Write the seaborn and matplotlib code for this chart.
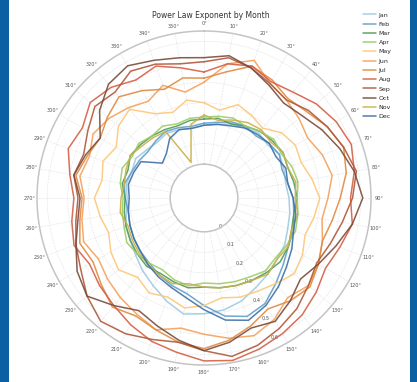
import numpy as np
import pandas as pd
import matplotlib
matplotlib.use("Agg")
import matplotlib.pyplot as plt
from matplotlib.patches import Rectangle
import seaborn as sns

# direction bins, degrees clockwise from north
directions = list(range(0, 360, 10))
months = ["Jan", "Feb", "Mar", "Apr", "May", "Jun",
          "Jul", "Aug", "Sep", "Oct", "Nov", "Dec"]
month_colors = ["#9ecae1", "#5f9fc9", "#4f9a5a", "#9ccc65", "#fdc87a", "#f5a05a",
                "#e08a40", "#d45f45", "#b0583a", "#7b4b3a", "#c9b04a", "#3f6fa8"]

jan = [0.19, 0.20, 0.22, 0.23, 0.25, 0.24, 0.26, 0.25, 0.24, 0.25, 0.26, 0.27,
       0.29, 0.30, 0.32, 0.34, 0.37, 0.39, 0.40, 0.41, 0.37, 0.33, 0.30, 0.27,
       0.25, 0.24, 0.22, 0.21, 0.22, 0.21, 0.22, 0.20, 0.19, 0.20, 0.19, 0.18]
feb = [0.20, 0.21, 0.23, 0.24, 0.23, 0.25, 0.26, 0.24, 0.25, 0.27, 0.28, 0.30,
       0.31, 0.34, 0.38, 0.43, 0.45, 0.42, 0.36, 0.31, 0.29, 0.27, 0.25, 0.24,
       0.23, 0.22, 0.21, 0.22, 0.23, 0.21, 0.20, 0.19, 0.20, 0.21, 0.20, 0.19]
mar = [0.22, 0.23, 0.22, 0.24, 0.26, 0.27, 0.28, 0.27, 0.28, 0.29, 0.28, 0.29,
       0.31, 0.32, 0.31, 0.30, 0.29, 0.28, 0.27, 0.28, 0.27, 0.26, 0.27, 0.26,
       0.25, 0.24, 0.23, 0.22, 0.24, 0.23, 0.25, 0.24, 0.23, 0.22, 0.21, 0.22]
apr = [0.23, 0.24, 0.25, 0.24, 0.26, 0.28, 0.27, 0.29, 0.30, 0.29, 0.30, 0.31,
       0.30, 0.29, 0.30, 0.28, 0.27, 0.26, 0.25, 0.27, 0.26, 0.24, 0.25, 0.26,
       0.27, 0.25, 0.24, 0.23, 0.25, 0.26, 0.24, 0.25, 0.23, 0.24, 0.22, 0.23]
may = [0.30, 0.27, 0.32, 0.30, 0.28, 0.33, 0.35, 0.34, 0.37, 0.40, 0.38, 0.36,
       0.39, 0.41, 0.38, 0.36, 0.35, 0.33, 0.36, 0.38, 0.35, 0.37, 0.34, 0.38,
       0.36, 0.33, 0.35, 0.37, 0.34, 0.36, 0.33, 0.38, 0.40, 0.31, 0.28, 0.32]
jun = [0.40, 0.50, 0.55, 0.48, 0.46, 0.44, 0.42, 0.45, 0.47, 0.44, 0.42, 0.45,
       0.48, 0.50, 0.47, 0.52, 0.55, 0.53, 0.50, 0.48, 0.52, 0.49, 0.47, 0.45,
       0.43, 0.46, 0.44, 0.42, 0.45, 0.43, 0.46, 0.44, 0.41, 0.38, 0.42, 0.36]
jul = [0.42, 0.46, 0.52, 0.50, 0.47, 0.49, 0.53, 0.56, 0.54, 0.50, 0.47, 0.45,
       0.48, 0.51, 0.49, 0.46, 0.50, 0.54, 0.57, 0.55, 0.52, 0.50, 0.53, 0.49,
       0.46, 0.48, 0.45, 0.43, 0.47, 0.44, 0.42, 0.45, 0.48, 0.44, 0.40, 0.43]
aug = [0.45, 0.50, 0.52, 0.49, 0.51, 0.55, 0.58, 0.60, 0.58, 0.55, 0.57, 0.54,
       0.52, 0.55, 0.58, 0.60, 0.62, 0.64, 0.63, 0.60, 0.58, 0.55, 0.52, 0.50,
       0.48, 0.51, 0.49, 0.47, 0.50, 0.54, 0.52, 0.56, 0.54, 0.50, 0.52, 0.48]
sep = [0.50, 0.53, 0.51, 0.48, 0.46, 0.50, 0.53, 0.56, 0.59, 0.56, 0.52, 0.49,
       0.47, 0.50, 0.54, 0.57, 0.60, 0.62, 0.58, 0.55, 0.57, 0.60, 0.62, 0.58,
       0.53, 0.50, 0.47, 0.45, 0.48, 0.46, 0.49, 0.53, 0.51, 0.55, 0.53, 0.50]
oct_ = [0.52, 0.54, 0.51, 0.47, 0.44, 0.46, 0.50, 0.54, 0.58, 0.61, 0.57, 0.52,
        0.48, 0.45, 0.49, 0.53, 0.51, 0.55, 0.58, 0.54, 0.50, 0.47, 0.52, 0.58,
        0.55, 0.50, 0.46, 0.44, 0.48, 0.45, 0.42, 0.50, 0.56, 0.58, 0.55, 0.53]
nov = [0.24, 0.22, 0.24, 0.26, 0.27, 0.26, 0.28, 0.27, 0.29, 0.28, 0.30, 0.29,
       0.31, 0.30, 0.32, 0.30, 0.29, 0.28, 0.27, 0.26, 0.28, 0.27, 0.26, 0.25,
       0.24, 0.23, 0.25, 0.24, 0.23, 0.24, 0.25, 0.23, 0.22, 0.21, 0.02, 0.20]
dec = [0.19, 0.20, 0.21, 0.23, 0.24, 0.25, 0.24, 0.26, 0.25, 0.27, 0.29, 0.30,
       0.33, 0.36, 0.40, 0.44, 0.47, 0.44, 0.38, 0.33, 0.30, 0.28, 0.26, 0.24,
       0.23, 0.22, 0.21, 0.20, 0.21, 0.20, 0.19, 0.10, 0.12, 0.17, 0.19, 0.18]

series = [jan, feb, mar, apr, may, jun, jul, aug, sep, oct_, nov, dec]
r_ticks = [0, 0.1, 0.2, 0.3, 0.4, 0.5, 0.6]


def build_frame():
    rows = []
    for name, vals in zip(months, series):
        # repeat the first bin at 360 so each loop closes
        thetas = np.deg2rad(directions + [360])
        for t, v in zip(thetas, vals + vals[:1]):
            rows.append({"theta": t, "alpha": v, "month": name})
    return pd.DataFrame(rows)


df = build_frame()

sns.set_style("white")
fig = plt.figure(figsize=(4.17, 3.82), dpi=100, facecolor="#0d5fa3")
fig.add_artist(Rectangle((9 / 417, 0), 401 / 417, 1, transform=fig.transFigure,
                         facecolor="white", edgecolor="none", zorder=0))

ax = fig.add_axes([37 / 417, 17 / 382, 334 / 417, 334 / 382], projection="polar")
ax.set_theta_zero_location("N")
ax.set_theta_direction(-1)

sns.lineplot(data=df, x="theta", y="alpha", hue="month", hue_order=months,
             palette=month_colors, sort=False, estimator=None,
             linewidth=1.1, alpha=0.9, ax=ax)

ax.set_rorigin(-0.165)
ax.set_ylim(0, 0.65)
ax.set_thetagrids(directions, labels=[f"{d}°" for d in directions],
                  fontsize=3.6, color="#555555")
ax.set_rticks(r_ticks)
ax.set_yticklabels([f"{r:g}" for r in r_ticks], fontsize=3.6, color="#555555")
ax.set_rlabel_position(155)
ax.tick_params(axis="x", pad=-5)
ax.grid(True, color="#e2e2e2", linestyle="--", linewidth=0.4)
for sp in ax.spines.values():
    sp.set_color("#c4c4c4")
    sp.set_linewidth(1.1)
ax.set_xlabel("")
ax.set_ylabel("")

handles, labels = ax.get_legend_handles_labels()
ax.get_legend().remove()
fig.legend(handles, labels, loc="upper left", bbox_to_anchor=(360 / 417, 373 / 382),
           frameon=False, fontsize=4.5, handlelength=2.0, handletextpad=0.5,
           labelspacing=0.62, borderpad=0)

fig.text(211 / 417, 366 / 382, "Power Law Exponent by Month", ha="center",
         va="center", fontsize=5.5, color="#333333")

fig.savefig("out.png", dpi=100, facecolor=fig.get_facecolor())
